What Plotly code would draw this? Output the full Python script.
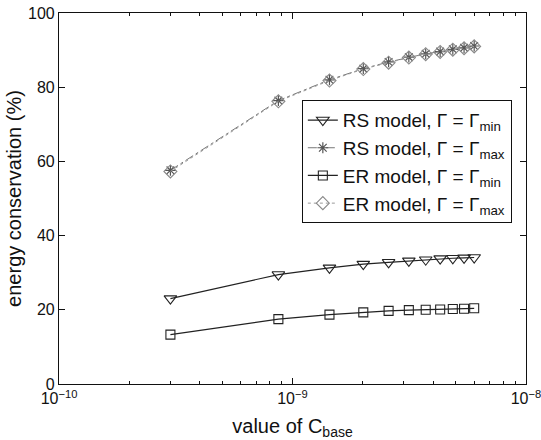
import plotly.graph_objects as go

c_base = [3.0e-10, 8.7e-10, 1.44e-9, 2.01e-9, 2.58e-9, 3.15e-9, 3.72e-9, 4.29e-9, 4.86e-9, 5.43e-9, 6.0e-9]
rs_min = [23.0, 29.5, 31.3, 32.3, 32.8, 33.2, 33.5, 33.8, 33.9, 34.0, 34.1]
rs_max = [57.6, 76.4, 82.0, 85.0, 86.8, 88.1, 89.0, 89.6, 90.2, 90.6, 91.1]
er_min = [13.3, 17.5, 18.7, 19.3, 19.7, 19.9, 20.0, 20.1, 20.2, 20.3, 20.4]
er_max = [57.3, 76.2, 81.8, 84.9, 86.6, 88.0, 88.9, 89.5, 90.1, 90.5, 91.0]

names = ["RS model, Γ = Γ<sub>min</sub>", "RS model, Γ = Γ<sub>max</sub>",
         "ER model, Γ = Γ<sub>min</sub>", "ER model, Γ = Γ<sub>max</sub>"]

x_tickvals = [1e-10, 1e-9, 1e-8]
x_ticktext = ["10<sup>−10</sup>", "10<sup>−9</sup>", "10<sup>−8</sup>"]
x_minor = [2e-10, 3e-10, 4e-10, 5e-10, 6e-10, 7e-10, 8e-10, 9e-10,
           2e-9, 3e-9, 4e-9, 5e-9, 6e-9, 7e-9, 8e-9, 9e-9]
y_tickvals = [0, 20, 40, 60, 80, 100]

font = "Liberation Sans, Arial, sans-serif"
fig = go.Figure()
fig.add_trace(go.Scatter(x=c_base, y=rs_min, name=names[0], mode="lines+markers",
                         line=dict(color="#222", width=1.2),
                         marker=dict(symbol="triangle-down-open", size=11, color="#222", line=dict(width=1.1))))
fig.add_trace(go.Scatter(x=c_base, y=rs_max, name=names[1], mode="lines+markers",
                         line=dict(color="#777", width=1, dash="dashdot"),
                         marker=dict(symbol="asterisk-open", size=9, color="#555", line=dict(width=1.2, color="#555"))))
fig.add_trace(go.Scatter(x=c_base, y=er_min, name=names[2], mode="lines+markers",
                         line=dict(color="#222", width=1.2),
                         marker=dict(symbol="square-open", size=9, color="#222", line=dict(width=1.1))))
fig.add_trace(go.Scatter(x=c_base, y=er_max, name=names[3], mode="lines+markers",
                         line=dict(color="#999", width=1, dash="dot"),
                         marker=dict(symbol="diamond-open", size=10, color="#888", line=dict(width=1.1, color="#888"))))

fig.update_layout(
    width=541, height=440,
    margin=dict(l=59, r=15, t=13, b=56),
    paper_bgcolor="white", plot_bgcolor="white",
    font=dict(family=font, size=16, color="#111"),
    showlegend=True,
    legend=dict(x=0.52, y=0.765, xanchor="left", yanchor="top",
                bordercolor="#111", borderwidth=1, bgcolor="white",
                font=dict(size=19), tracegroupgap=0, itemwidth=30),
)
fig.update_xaxes(type="log", range=[-10.0001, -7.9999], tickvals=x_tickvals, ticktext=x_ticktext,
                 ticks="inside", ticklen=6, tickcolor="#111", showline=True, linecolor="#111",
                 linewidth=1.2, mirror="allticks", showgrid=False, zeroline=False,
                 ticklabeloverflow="allow", automargin=False,
                 minor=dict(tickvals=x_minor, ticks="inside", ticklen=3, tickcolor="#111", showgrid=False),
                 tickfont=dict(size=16),
                 title=dict(text="value of C<sub>base</sub>", font=dict(size=20)))
fig.update_yaxes(range=[0, 100], tickvals=y_tickvals, ticks="inside", ticklen=6, tickcolor="#111",
                 showline=True, linecolor="#111", linewidth=1.2, mirror="allticks", automargin=False,
                 showgrid=False, zeroline=False, tickfont=dict(size=16), ticklabelstandoff=0,
                 title=dict(text="energy conservation (%)", font=dict(size=20), standoff=0))

fig.write_html("out.html")
